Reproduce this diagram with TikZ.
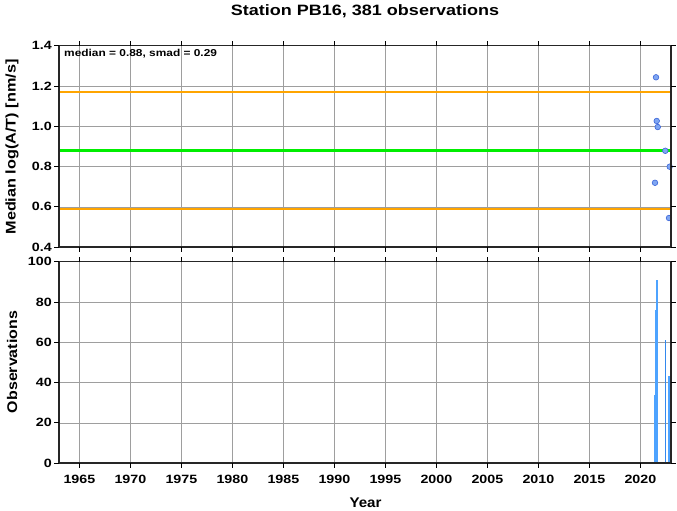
\documentclass[tikz,border=0pt]{standalone}
\usepackage{fontspec}
\setmainfont{Liberation Sans}
\definecolor{ptfill}{HTML}{7FA6F2}
\definecolor{ptline}{HTML}{3A64D8}
\definecolor{barblue}{HTML}{4DA3FF}
\definecolor{bardark}{HTML}{3388EE}
\definecolor{orangeline}{HTML}{FFA500}
\definecolor{greenline}{HTML}{00EE00}
\newcommand{\wide}[2]{\scalebox{#1}[1]{#2}}
\begin{document}
\begin{tikzpicture}[x=1pt,y=-1pt]
\tikzset{
  gridline/.style={draw=black!38, line width=0.45pt},
  frameline/.style={draw=black!85, line width=1.3pt},
  tickline/.style={draw=black, line width=0.6pt},
  ticklab/.style={font=\fontsize{12}{13}\selectfont\bfseries, inner sep=0pt},
  axlab/.style={font=\fontsize{14}{15}\selectfont\bfseries, inner sep=0pt},
  datapt/.style={fill=ptfill, draw=ptline, line width=0.6pt},
  obsbar/.style={fill=barblue, draw=none},
}
\useasboundingbox (0,0) rectangle (677,511);
\node[font=\fontsize{15}{16}\selectfont\bfseries, inner sep=0pt] (title) at (365,11) {\wide{1.2}{Station PB16, 381 observations}};
% ---------------- top panel
\begin{scope}[xshift=59pt,yshift=-247pt,x=10.2pt,y=201.3pt]
  \foreach \yr in {1965,1970,...,2020} \draw[gridline] ({\yr-1963},0) -- ({\yr-1963},1);
  \foreach \v in {0.2,0.4,0.6,0.8} \draw[gridline] (0,\v) -- (60,\v);
  \draw[orangeline, line width=2pt] (0,0.77) -- (60,0.77);
  \draw[orangeline, line width=2pt] (0,0.19) -- (60,0.19);
  \draw[greenline, line width=3.2pt] (0,0.48) -- (60,0.48);
  \foreach \yr/\v in {2021.53/1.243,2021.60/1.026,2021.70/0.996,2022.44/0.878,2022.87/0.799,2021.43/0.719,2022.80/0.544}
    \fill[datapt] ({\yr-1963},{\v-0.4}) circle[radius=2.8pt];
  \draw[frameline] (0,0) rectangle (60,1);
  \foreach \yr in {1965,1970,...,2020} {
    \draw[tickline] ({\yr-1963},0) -- ++(0pt,-5pt);
    \draw[tickline] ({\yr-1963},1) -- ++(0pt,5pt);
  }
  \foreach \v/\t in {0/0.4,0.2/0.6,0.4/0.8,0.6/1.0,0.8/1.2,1/1.4} {
    \draw[tickline] (0,\v) -- ++(-5pt,0pt);
    \draw[tickline] (60,\v) -- ++(5pt,0pt);
    \node[ticklab, anchor=east] (yl\t) at ([xshift=-7pt]0,\v) {\wide{1.19}{\t}};
  }
  \node[font=\fontsize{10}{11}\selectfont\bfseries, inner sep=0pt, anchor=west] (stats) at ([xshift=5pt,yshift=-8pt]0,1) {\wide{1.19}{median = 0.88, smad = 0.29}};
\end{scope}
% ---------------- bottom panel
\begin{scope}[xshift=59pt,yshift=-463pt,x=10.2pt,y=2.013pt]
  \foreach \yr in {1965,1970,...,2020} \draw[gridline] ({\yr-1963},0) -- ({\yr-1963},100);
  \foreach \v in {20,40,60,80} \draw[gridline] (0,\v) -- (60,\v);
  \foreach \a/\b/\h in {2021.36/2021.52/34,2021.46/2021.56/76,2021.56/2021.70/91,2021.60/2021.75/43,2022.72/2022.90/43}
    \fill[obsbar] ({\a-1963},0) rectangle ({\b-1963},\h);
  \fill[bardark] ({2022.38-1963},0) rectangle ({2022.53-1963},61);
  \draw[frameline] (0,0) rectangle (60,100);
  \foreach \yr in {1965,1970,...,2020} {
    \draw[tickline] ({\yr-1963},0) -- ++(0pt,-5pt);
    \draw[tickline] ({\yr-1963},100) -- ++(0pt,5pt);
    \node[ticklab, anchor=north] (xl\yr) at ([yshift=-12pt]{\yr-1963},0) {\wide{1.19}{\yr}};
  }
  \foreach \v in {0,20,...,100} {
    \draw[tickline] (0,\v) -- ++(-5pt,0pt);
    \draw[tickline] (60,\v) -- ++(5pt,0pt);
    \node[ticklab, anchor=east] (ol\v) at ([xshift=-7pt]0,\v) {\wide{1.19}{\v}};
  }
\end{scope}
\node[axlab, rotate=90] (ylabtop) at (12,147) {\wide{1.16}{Median log(A/T) [nm/s]}};
\node[axlab, rotate=90] (ylabbot) at (12,362) {\wide{1.14}{Observations}};
\node[axlab] (xlab) at (365.5,503) {\wide{1.08}{Year}};
\end{tikzpicture}
\end{document}
